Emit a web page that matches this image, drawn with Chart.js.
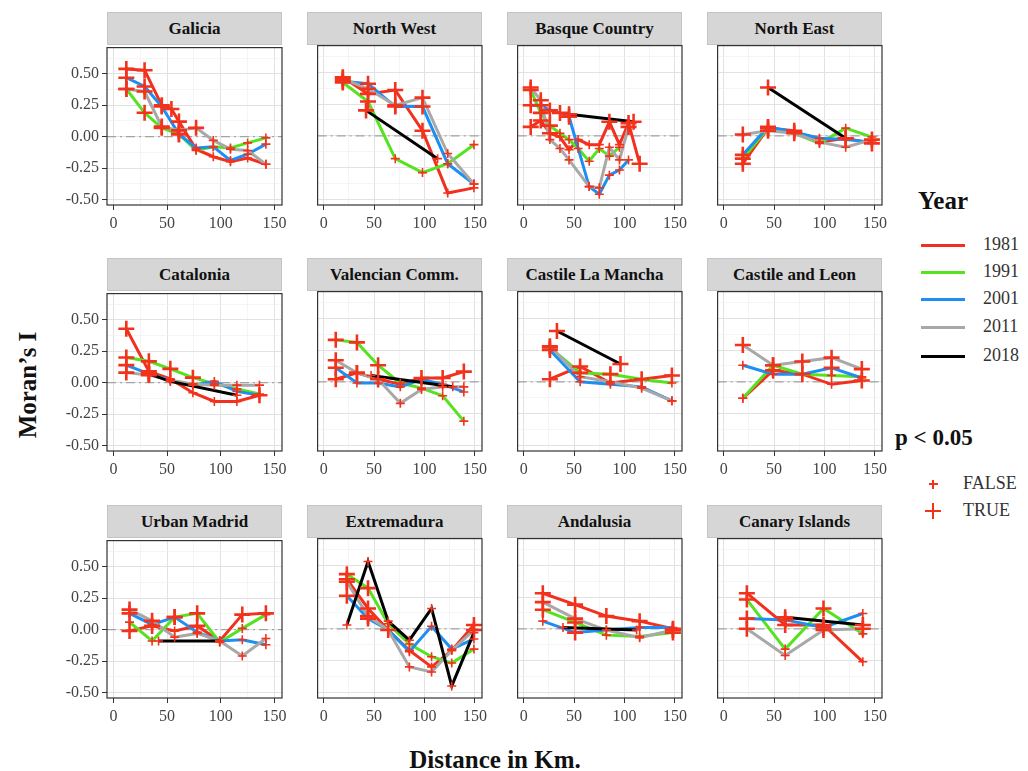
<!DOCTYPE html>
<html>
<head>
<meta charset="utf-8">
<script src="https://cdn.jsdelivr.net/npm/chart.js@4.4.1/dist/chart.umd.min.js"></script>
<style>
  body { margin: 0; background: #fff; width: 1028px; height: 771px; position: relative; overflow: hidden;
         font-family: "Liberation Serif", "DejaVu Serif", serif; color: #111; }
  .panel { position: absolute; }
  .strip { position: absolute; background: #d6d6d6; box-sizing: border-box; border: 1px solid #c4c4c4;
           font-weight: bold; font-size: 17px; text-align: center; line-height: 32px; }
  .title { position: absolute; font-weight: bold; font-size: 25px; white-space: nowrap; }
  .leg-line { position: absolute; height: 3px; width: 44px; }
  .leg-text { position: absolute; font-size: 18px; color: #333; }
  .cross { position: absolute; }
  .cross div { position: absolute; background: #f3321c; }
</style>
</head>
<body>
<div id="root"></div>
<script>
// regions in facet order
const regions = ["Galicia", "North West", "Basque Country", "North East",
  "Catalonia", "Valencian Comm.", "Castile La Mancha", "Castile and Leon",
  "Urban Madrid", "Extremadura", "Andalusia", "Canary Islands"];
const years = ["1981", "1991", "2001", "2011", "2018"];
const yearColors = ["#f2301f", "#55e21f", "#1e8ff0", "#a8a8a8", "#000000"];
const markerColor = "#f3321c";

// each region: series per year, points as [distance km, Moran's I, p<0.05]
const galicia = [
  [[12,0.54,1],[29,0.53,1],[45,0.25,1],[54,0.22,1],[61,0.12,1],[77,-0.10,0],[93,-0.16,0],[109,-0.20,0],[125,-0.17,0],[142,-0.22,0]],
  [[12,0.38,1],[29,0.19,1],[45,0.07,1],[61,0.02,1],[77,-0.11,0],[93,-0.08,0],[109,-0.09,0],[125,-0.05,0],[142,-0.01,0]],
  [[12,0.47,1],[29,0.40,1],[45,0.24,1],[61,0.02,1],[77,-0.09,0],[93,-0.08,0],[109,-0.19,0],[125,-0.14,0],[142,-0.06,0]],
  [[12,0.38,1],[29,0.36,1],[45,0.08,1],[61,0.05,1],[77,0.07,1],[93,-0.03,0],[109,-0.10,0],[125,-0.11,0],[142,-0.22,0]],
  []
];
const northWest = [
  [[19,0.46,1],[44,0.33,1],[71,0.36,1],[98,0.04,1],[123,-0.45,0],[149,-0.41,0]],
  [[19,0.42,1],[44,0.27,1],[71,-0.18,0],[98,-0.29,0],[123,-0.22,0],[149,-0.07,0]],
  [[19,0.43,1],[44,0.41,1],[71,0.23,1],[98,0.23,1],[123,-0.22,0],[149,-0.38,0]],
  [[19,0.45,1],[44,0.37,1],[71,0.24,1],[98,0.30,1],[123,-0.14,0],[149,-0.38,0]],
  [[42,0.20,1],[113,-0.18,0]]
];
const basque = [
  [[7,0.07,1],[17,0.12,1],[26,0.02,1],[36,-0.01,0],[45,-0.11,0],[54,-0.03,0],[65,-0.07,0],[75,-0.07,0],[85,0.11,1],[95,-0.07,0],[104,0.10,1],[115,-0.22,1]],
  [[7,0.36,1],[17,0.18,1],[26,0.08,1],[36,0.02,0],[45,-0.03,0],[54,-0.10,0],[65,-0.20,0],[75,-0.10,0],[85,-0.16,0],[95,-0.09,0]],
  [[7,0.24,1],[17,0.24,1],[26,0.20,1],[36,0.18,1],[45,0.15,1],[65,-0.40,0],[75,-0.46,0],[85,-0.31,0],[95,-0.27,0],[104,-0.19,0]],
  [[7,0.38,1],[17,0.28,1],[26,-0.03,0],[36,-0.10,0],[45,-0.19,0],[65,-0.40,0],[75,-0.41,0],[85,-0.09,0],[95,-0.19,0],[104,0.07,1]],
  [[45,0.17,1],[109,0.11,1]]
];
const northEast = [
  [[19,-0.22,1],[44,0.06,1],[70,0.04,1],[95,-0.05,0],[121,-0.02,1],[147,-0.06,1]],
  [[19,-0.18,1],[44,0.06,0],[70,0.02,0],[95,-0.06,0],[121,0.06,0],[147,-0.01,0]],
  [[19,-0.15,1],[44,0.07,1],[70,0.03,0],[95,-0.02,0],[121,-0.03,0],[147,-0.05,0]],
  [[19,0.01,1],[44,0.04,1],[70,0.02,1],[95,-0.05,0],[121,-0.09,0],[147,-0.03,1]],
  [[44,0.38,1],[121,-0.02,1]]
];
const catalonia = [
  [[12,0.43,1],[33,0.09,1],[53,0.03,0],[74,-0.08,0],[94,-0.15,0],[115,-0.15,0],[136,-0.10,1]],
  [[12,0.20,1],[33,0.17,1],[53,0.11,1],[74,0.04,1],[94,-0.01,0],[115,-0.05,0],[136,-0.09,0]],
  [[12,0.14,1],[33,0.07,1],[53,0.02,0],[74,-0.02,0],[94,0.01,0],[115,-0.07,0],[136,-0.10,0]],
  [[12,0.08,1],[33,0.06,1],[53,0.02,0],[74,-0.01,0],[94,-0.02,0],[115,-0.02,0],[136,-0.02,0]],
  [[33,0.07,1],[53,0.01,0],[115,-0.10,0]]
];
const valencian = [
  [[12,0.02,1],[33,0.07,1],[54,0.02,1],[76,-0.02,0],[97,0.03,1],[118,0.03,1],[139,0.08,1]],
  [[12,0.33,1],[33,0.31,1],[54,0.13,1],[76,-0.01,0],[97,-0.05,0],[118,-0.11,0],[139,-0.31,0]],
  [[12,0.11,1],[33,-0.01,0],[54,-0.01,0],[76,-0.04,0],[97,0.02,0],[118,-0.02,0],[139,-0.08,0]],
  [[12,0.17,1],[33,0.07,1],[54,0.02,0],[76,-0.17,0],[97,-0.06,0],[118,-0.04,0],[139,-0.04,0]],
  [[47,0.05,0],[128,-0.04,0]]
];
const castileLaMancha = [
  [[26,0.02,1],[56,0.12,1],[86,-0.01,0],[117,0.02,1],[147,0.05,1]],
  [[26,0.27,1],[56,0.07,1],[86,0.06,1],[117,0.02,0],[147,-0.01,0]],
  [[26,0.25,1],[56,0.00,0],[86,-0.02,0],[117,-0.04,0],[147,-0.15,0]],
  [[26,0.28,1],[56,0.04,0],[86,0.00,0],[117,-0.05,0],[147,-0.15,0]],
  [[33,0.40,1],[96,0.14,1]]
];
const castileLeon = [
  [[19,-0.13,0],[49,0.09,1],[78,0.06,1],[107,-0.02,0],[137,0.01,1]],
  [[19,-0.13,0],[49,0.13,1],[78,0.06,0],[107,0.05,0],[137,0.04,0]],
  [[19,0.13,0],[49,0.06,0],[78,0.06,0],[107,0.11,1],[137,0.03,0]],
  [[19,0.29,1],[49,0.13,1],[78,0.16,1],[107,0.19,1],[137,0.10,1]],
  []
];
const urbanMadrid = [
  [[15,-0.01,1],[36,0.03,1],[57,-0.01,0],[78,0.03,1],[99,-0.09,0],[120,0.12,1],[142,0.13,1]],
  [[15,0.06,0],[36,-0.09,0],[57,0.10,1],[78,0.13,1],[99,-0.10,0],[120,0.01,0],[142,0.12,0]],
  [[15,0.13,1],[36,0.04,0],[57,0.10,1],[78,-0.02,0],[99,-0.09,0],[120,-0.08,0],[142,-0.12,0]],
  [[15,0.16,1],[36,0.07,1],[57,-0.06,0],[78,-0.03,0],[99,-0.09,0],[120,-0.21,0],[142,-0.07,0]],
  [[42,-0.09,0],[99,-0.09,0]]
];
const extremadura = [
  [[23,0.39,1],[44,0.16,1],[64,-0.01,1],[85,-0.17,0],[107,-0.30,0],[127,-0.17,0],[149,0.03,1]],
  [[23,0.43,1],[44,0.32,1],[64,0.04,0],[85,-0.12,0],[107,-0.22,0],[127,-0.27,0],[149,-0.16,0]],
  [[23,0.26,1],[44,0.08,1],[64,-0.01,0],[85,-0.18,0],[107,0.02,0],[127,-0.16,0],[149,-0.08,0]],
  [[23,0.37,1],[44,0.10,1],[64,-0.01,0],[85,-0.30,0],[107,-0.34,0],[127,-0.17,0],[149,-0.01,1]],
  [[23,0.03,0],[44,0.53,0],[64,0.06,0],[85,-0.09,0],[107,0.16,0],[127,-0.45,0],[149,-0.03,0]]
];
const andalusia = [
  [[19,0.28,1],[51,0.19,1],[82,0.10,1],[115,0.06,1],[148,0.00,1]],
  [[19,0.15,1],[51,0.05,1],[82,-0.05,0],[115,-0.06,0],[148,-0.03,1]],
  [[19,0.06,0],[51,-0.03,1],[82,-0.01,0],[115,0.01,0],[148,0.01,0]],
  [[19,0.21,1],[51,0.08,1],[82,-0.01,0],[115,-0.07,0],[148,-0.01,1]],
  [[39,0.01,0],[112,-0.01,0]]
];
const canary = [
  [[23,0.28,1],[61,0.03,1],[99,0.03,1],[138,-0.26,0]],
  [[23,0.23,1],[61,-0.16,0],[99,0.16,1],[138,-0.04,0]],
  [[23,0.08,1],[61,0.07,1],[99,0.01,1],[138,0.12,0]],
  [[23,0.00,1],[61,-0.21,0],[99,-0.01,1],[138,0.00,1]],
  [[61,0.09,1],[138,0.03,1]]
];
const regionSeries = [galicia, northWest, basque, northEast, catalonia, valencian,
  castileLaMancha, castileLeon, urbanMadrid, extremadura, andalusia, canary];

const xTicks = [0, 50, 100, 150];
const yTicks = [-0.5, -0.25, 0, 0.25, 0.5];

// layout of the facet grid
const colLeft = [107, 307, 507, 707];
const rowTop = [45, 291, 538];
const plotW = 175, plotH = 160;
const padTop = 10, padRight = 12, xAxisH = 30;

const isMajor = (list, v) => list.some(t => Math.abs(t - v) < 1e-6);

const panelDecor = {
  id: "panelDecor",
  beforeDatasetsDraw(chart) {
    const { ctx, chartArea: a, scales } = chart;
    const y0 = scales.y.getPixelForValue(0);
    ctx.save();
    ctx.strokeStyle = "#a3a3a3";
    ctx.lineWidth = 1.3;
    ctx.setLineDash([9, 4, 2, 4]);
    ctx.beginPath();
    ctx.moveTo(a.left, y0);
    ctx.lineTo(a.right, y0);
    ctx.stroke();
    ctx.restore();
  },
  afterDraw(chart) {
    const { ctx, chartArea: a } = chart;
    ctx.save();
    ctx.strokeStyle = "#333";
    ctx.lineWidth = 1.2;
    ctx.strokeRect(a.left, a.top, a.right - a.left, a.bottom - a.top);
    ctx.restore();
  }
};

const root = document.getElementById("root");

regions.forEach((name, r) => {
  const col = r % 4, row = Math.floor(r / 4);
  const yW = col === 0 ? 50 : 0;

  const strip = document.createElement("div");
  strip.className = "strip";
  strip.style.left = colLeft[col] + "px";
  strip.style.top = (rowTop[row] - 33) + "px";
  strip.style.width = plotW + "px";
  strip.style.height = "33px";
  strip.textContent = name;
  root.appendChild(strip);

  const box = document.createElement("div");
  box.className = "panel";
  box.style.left = (colLeft[col] - yW) + "px";
  box.style.top = (rowTop[row] - padTop) + "px";
  box.style.width = (yW + plotW + padRight) + "px";
  box.style.height = (padTop + plotH + xAxisH) + "px";
  const canvas = document.createElement("canvas");
  box.appendChild(canvas);
  root.appendChild(box);

  const datasets = [];
  regionSeries[r].forEach((pts, i) => {
    if (!pts.length) return;
    const data = pts.map(p => ({ x: p[0], y: p[1] }));
    datasets.push({
      data: data, borderColor: yearColors[i], borderWidth: 3, pointRadius: 0,
      tension: 0, fill: false, order: 10 - i
    });
    datasets.push({
      data: data, showLine: false, pointStyle: "cross",
      pointRadius: pts.map(p => p[2] ? 8 : 4.5),
      pointBorderWidth: pts.map(p => p[2] ? 2.6 : 1.6),
      pointBorderColor: markerColor, pointBackgroundColor: markerColor, order: 1
    });
  });

  const gridOpts = (list, showTicks) => ({
    color: ctx => isMajor(list, ctx.tick ? ctx.tick.value : 0) ? "#e2e2e2" : "#efefef",
    lineWidth: ctx => isMajor(list, ctx.tick ? ctx.tick.value : 0) ? 1 : 0.6,
    drawTicks: showTicks,
    tickLength: 5,
    tickColor: ctx => isMajor(list, ctx.tick ? ctx.tick.value : 0) ? "#333" : "rgba(0,0,0,0)"
  });

  new Chart(canvas.getContext("2d"), {
    type: "line",
    data: { datasets: datasets },
    options: {
      responsive: true,
      maintainAspectRatio: false,
      animation: false,
      events: [],
      layout: { padding: { top: padTop, right: padRight, left: 0, bottom: 0 } },
      plugins: { legend: { display: false }, tooltip: { enabled: false } },
      scales: {
        x: {
          type: "linear", min: -6, max: 157,
          border: { display: false },
          grid: gridOpts(xTicks, true),
          ticks: {
            stepSize: 25, includeBounds: false, autoSkip: false, maxRotation: 0, padding: 4,
            color: "#444", font: { family: "Liberation Serif", size: 16 },
            callback: v => isMajor(xTicks, v) ? String(v) : ""
          },
          afterFit: s => { s.width; s.height = xAxisH; }
        },
        y: {
          // range chosen so it is not a whole number of steps (keeps ticks on 0.125 multiples)
          type: "linear", min: -0.545, max: 0.71,
          border: { display: false },
          grid: gridOpts(yTicks, col === 0),
          ticks: {
            display: col === 0,
            stepSize: 0.125, includeBounds: false, autoSkip: false, padding: 3,
            color: "#444", font: { family: "Liberation Serif", size: 16 },
            callback: v => isMajor(yTicks, v) ? v.toFixed(2) : ""
          },
          afterFit: s => { s.width = yW; }
        }
      }
    },
    plugins: [panelDecor]
  });
});

// axis titles
const yTitle = document.createElement("div");
yTitle.className = "title";
yTitle.textContent = "Moran’s I";
yTitle.style.left = "28px";
yTitle.style.top = "385px";
yTitle.style.transform = "translate(-50%, -50%) rotate(-90deg)";
root.appendChild(yTitle);

const xTitle = document.createElement("div");
xTitle.className = "title";
xTitle.textContent = "Distance in Km.";
xTitle.style.left = "495px";
xTitle.style.top = "760px";
xTitle.style.transform = "translate(-50%, -50%)";
root.appendChild(xTitle);

// legend: Year
const legYear = document.createElement("div");
legYear.className = "title";
legYear.textContent = "Year";
legYear.style.left = "918px";
legYear.style.top = "187px";
root.appendChild(legYear);
const legY = [245, 272, 299, 327, 356];
years.forEach((y, i) => {
  const ln = document.createElement("div");
  ln.className = "leg-line";
  ln.style.left = "921px";
  ln.style.top = (legY[i] - 1.5) + "px";
  ln.style.background = yearColors[i];
  root.appendChild(ln);
  const tx = document.createElement("div");
  tx.className = "leg-text";
  tx.textContent = y;
  tx.style.left = "983px";
  tx.style.top = (legY[i] - 11) + "px";
  root.appendChild(tx);
});

// legend: significance
const legP = document.createElement("div");
legP.className = "title";
legP.textContent = "p < 0.05";
legP.style.left = "895px";
legP.style.top = "425px";
legP.style.fontSize = "23px";
root.appendChild(legP);

function addCross(cx, cy, r, w) {
  const c = document.createElement("div");
  c.className = "cross";
  c.style.left = (cx - r) + "px";
  c.style.top = (cy - r) + "px";
  c.style.width = (2 * r) + "px";
  c.style.height = (2 * r) + "px";
  const h = document.createElement("div");
  h.style.left = "0px"; h.style.top = (r - w / 2) + "px";
  h.style.width = (2 * r) + "px"; h.style.height = w + "px";
  const v = document.createElement("div");
  v.style.top = "0px"; v.style.left = (r - w / 2) + "px";
  v.style.height = (2 * r) + "px"; v.style.width = w + "px";
  c.appendChild(h); c.appendChild(v);
  root.appendChild(c);
}
const sigLabels = ["FALSE", "TRUE"];
const sigY = [484, 511];
sigLabels.forEach((s, i) => {
  if (i === 0) addCross(933, sigY[i], 4.5, 1.6); else addCross(933, sigY[i], 8, 2.6);
  const tx = document.createElement("div");
  tx.className = "leg-text";
  tx.textContent = s;
  tx.style.left = "963px";
  tx.style.top = (sigY[i] - 11) + "px";
  root.appendChild(tx);
});
</script>
</body>
</html>
